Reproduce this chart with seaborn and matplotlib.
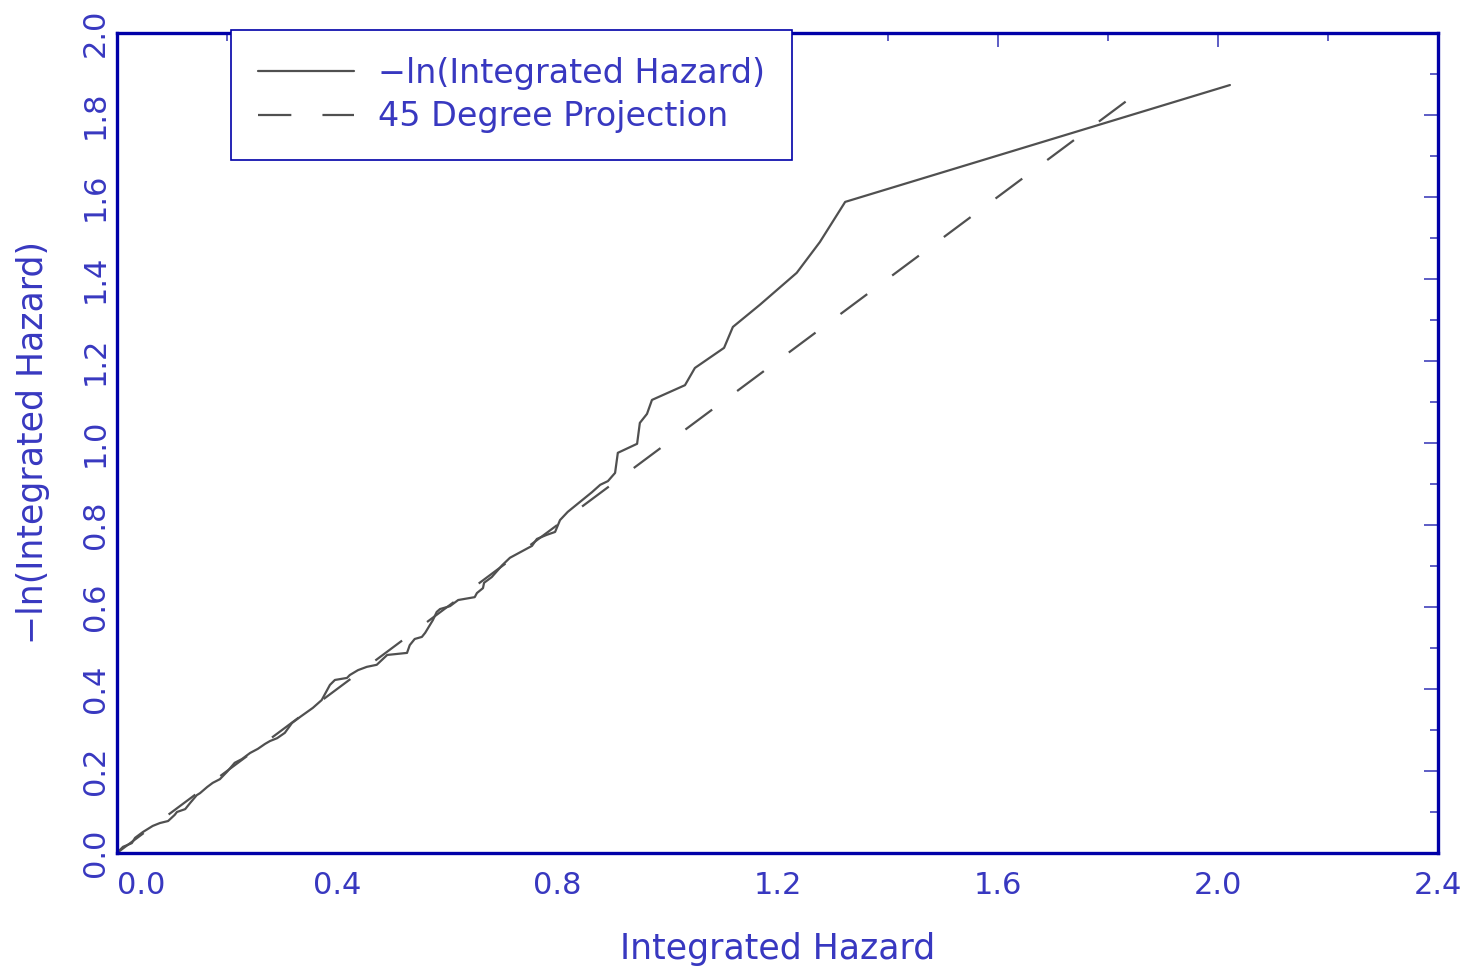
import numpy as np
import pandas as pd
import seaborn as sns
import matplotlib.pyplot as plt
from matplotlib.ticker import MultipleLocator

# integrated hazard (x) vs -ln(integrated hazard) (y)
cum_hazard = [0.000, 0.011, 0.027, 0.033, 0.047, 0.065, 0.078, 0.093, 0.105, 0.109,
              0.124, 0.133, 0.145, 0.151, 0.164, 0.174, 0.187, 0.200, 0.214, 0.227,
              0.242, 0.256, 0.269, 0.278, 0.291, 0.305, 0.318, 0.333, 0.356, 0.372,
              0.387, 0.396, 0.418, 0.423, 0.438, 0.454, 0.472, 0.491, 0.527, 0.532,
              0.541, 0.554, 0.560, 0.574, 0.581, 0.587, 0.605, 0.620, 0.650, 0.654,
              0.665, 0.667, 0.681, 0.700, 0.714, 0.754, 0.763, 0.781, 0.796, 0.805,
              0.819, 0.841, 0.863, 0.878, 0.892, 0.905, 0.910, 0.945, 0.950, 0.963,
              0.972, 1.032, 1.050, 1.103, 1.119, 1.168, 1.235, 1.277, 1.323, 2.022]
neg_log_hazard = [0.000, 0.015, 0.024, 0.037, 0.051, 0.066, 0.073, 0.078, 0.093, 0.100,
                  0.107, 0.122, 0.141, 0.146, 0.161, 0.171, 0.180, 0.198, 0.220, 0.229,
                  0.244, 0.254, 0.266, 0.273, 0.280, 0.293, 0.317, 0.332, 0.354, 0.373,
                  0.410, 0.422, 0.427, 0.434, 0.446, 0.454, 0.459, 0.483, 0.488, 0.507,
                  0.522, 0.527, 0.537, 0.568, 0.588, 0.595, 0.602, 0.617, 0.624, 0.634,
                  0.646, 0.659, 0.673, 0.702, 0.720, 0.749, 0.766, 0.776, 0.783, 0.812,
                  0.832, 0.856, 0.880, 0.898, 0.907, 0.927, 0.976, 0.998, 1.049, 1.071,
                  1.105, 1.141, 1.183, 1.232, 1.283, 1.337, 1.415, 1.490, 1.588, 1.873]
projection = [0.0, 1.86]

x_ticks = [0.0, 0.4, 0.8, 1.2, 1.6, 2.0, 2.4]
x_tick_labels = ['0.0', '0.4', '0.8', '1.2', '1.6', '2.0', '2.4']
y_ticks = [0.0, 0.2, 0.4, 0.6, 0.8, 1.0, 1.2, 1.4, 1.6, 1.8, 2.0]
y_tick_labels = ['0.0', '0.2', '0.4', '0.6', '0.8', '1.0', '1.2', '1.4', '1.6', '1.8', '2.0']

sns.set_theme(style="white")
plt.rcParams['font.family'] = ['DejaVu Sans']

axis_blue = '#0000a8'
text_blue = '#3838c0'
tick_blue = '#5050c0'
grey = '#505050'

fig = plt.figure(figsize=(14.82, 9.67), dpi=100)
ax = fig.add_axes([0.0789, 0.1179, 0.8914, 0.848])

curve = pd.DataFrame({'x': cum_hazard, 'y': neg_log_hazard})
diag = pd.DataFrame({'x': projection, 'y': projection})
sns.lineplot(data=curve, x='x', y='y', ax=ax, color=grey, lw=1.6,
             sort=False, estimator=None, label='\u2212ln(Integrated Hazard)')
sns.lineplot(data=diag, x='x', y='y', ax=ax, color=grey, lw=1.6,
             sort=False, estimator=None, ls=(0, (15, 14)),
             label='45 Degree Projection')

ax.set_xlim(0, 2.4)
ax.set_ylim(0, 2.0)
ax.set_xticks(x_ticks, x_tick_labels)
ax.set_yticks(y_ticks, y_tick_labels)
ax.xaxis.set_minor_locator(MultipleLocator(0.2))
ax.yaxis.set_minor_locator(MultipleLocator(0.1))

ax.tick_params(which='both', direction='in', top=True, right=True,
               color=tick_blue, width=1.3, labelcolor=text_blue, labelsize=22)
ax.tick_params(which='major', length=10)
ax.tick_params(which='minor', length=6)
ax.tick_params(axis='x', pad=13)
ax.tick_params(axis='y', pad=5, labelrotation=90)
for lab in ax.get_yticklabels():
    lab.set_va('center')
ax.get_xticklabels()[0].set_ha('left')

for sp in ax.spines.values():
    sp.set_color(axis_blue)
    sp.set_linewidth(2.4)

ax.set_xlabel('Integrated Hazard', fontsize=25, color=text_blue, labelpad=23)
ax.set_ylabel('\u2212ln(Integrated Hazard)', fontsize=25, color=text_blue, labelpad=22)

leg = ax.legend(loc='upper left', bbox_to_anchor=(0.0863, 1.0037), fontsize=24,
                frameon=True, fancybox=False, framealpha=1, edgecolor=axis_blue,
                handlelength=2.9, handletextpad=0.72, borderpad=0.8,
                labelspacing=0.32, borderaxespad=0)
leg.get_frame().set_linewidth(1.2)
for t in leg.get_texts():
    t.set_color(text_blue)

fig.savefig('out.png', dpi=100)
